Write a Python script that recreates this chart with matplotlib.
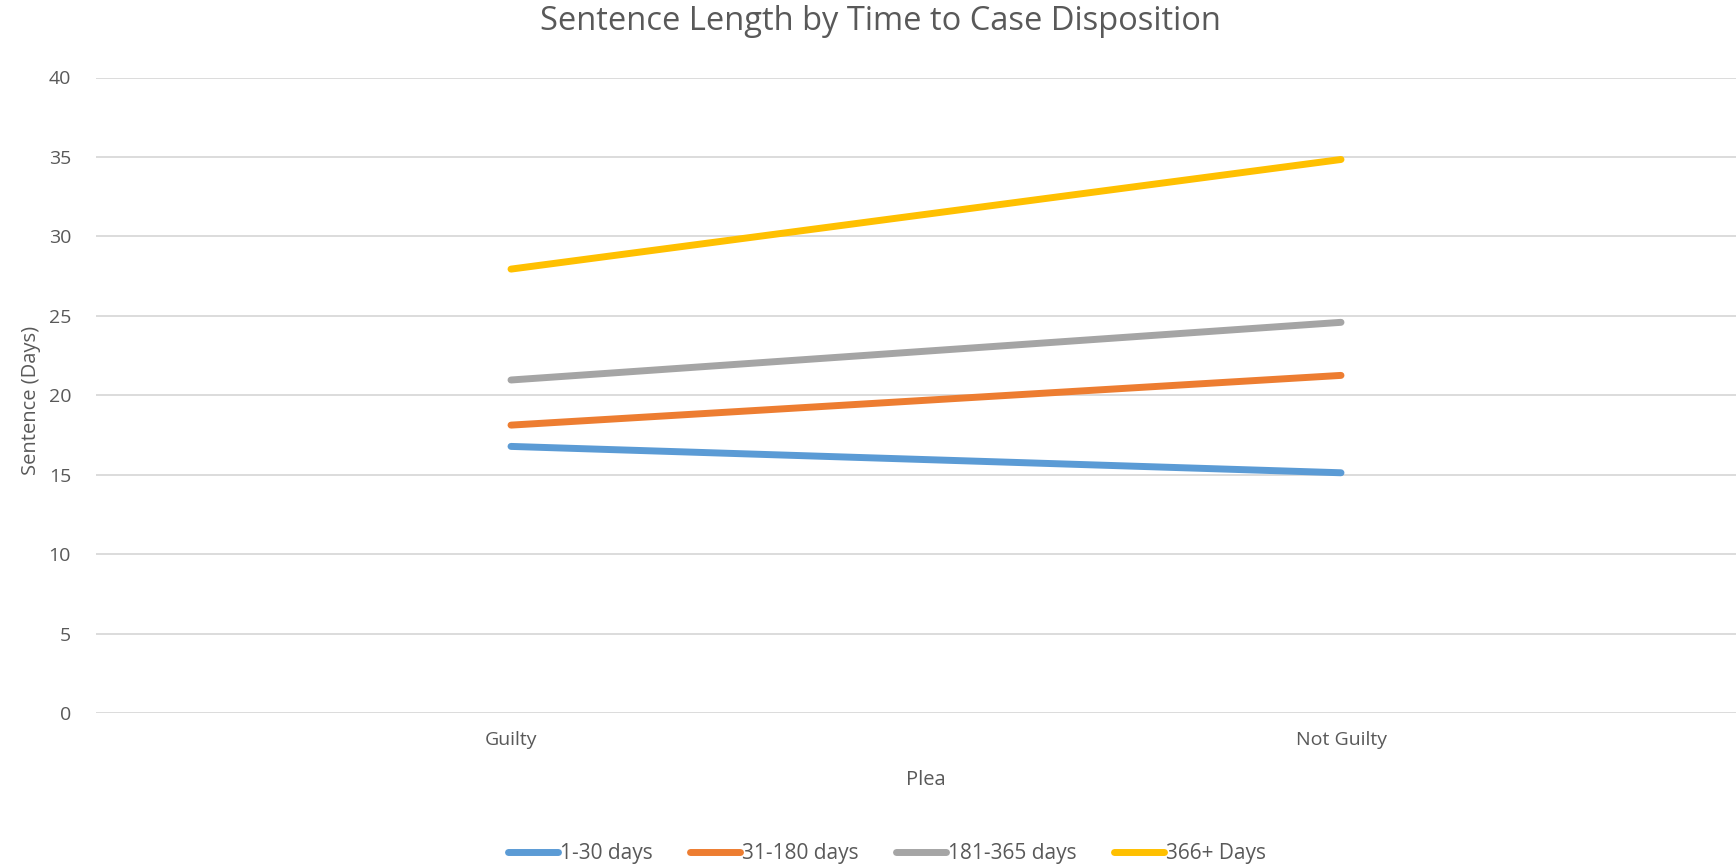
import matplotlib
matplotlib.use("Agg")
import matplotlib.pyplot as plt

plt.rcParams['font.family'] = ['Open Sans', 'DejaVu Sans']

# data
pleas = ["Guilty", "Not Guilty"]
series_names = ["1-30 days", "31-180 days", "181-365 days", "366+ Days"]
days_1_30 = [16.78, 15.12]
days_31_180 = [18.12, 21.25]
days_181_365 = [20.96, 24.59]
days_366_plus = [27.94, 34.84]
yticks = [0, 5, 10, 15, 20, 25, 30, 35, 40]

colors = ["#5B9BD5", "#ED7D31", "#A5A5A5", "#FFC000"]
text_col = "#595959"

W, H = 1736, 868
fig = plt.figure(figsize=(W / 100, H / 100), dpi=100)
# plot area runs a little past the right edge, like the original
left, right, top, bottom = 96, 1756, 77.5, 713
ax = fig.add_axes([left / W, 1 - bottom / H, (right - left) / W, (bottom - top) / H])

x = list(range(len(pleas)))
for name, ys, c in zip(series_names,
                       [days_1_30, days_31_180, days_181_365, days_366_plus],
                       colors):
    ax.plot(x, ys, color=c, lw=5, solid_capstyle="round", label=name, zorder=3)

ax.set_xlim(-0.5, len(pleas) - 0.5)
ax.set_ylim(0, 40)
ax.set_yticks(yticks)
ax.set_xticks(x)
ax.set_xticklabels(pleas)
ax.grid(axis="y", color="#D9D9D9", lw=1.3)
ax.set_axisbelow(True)
for s in ax.spines.values():
    s.set_visible(False)
ax.tick_params(length=0, labelsize=14, colors=text_col)
ax.tick_params(axis="y", pad=18)
ax.tick_params(axis="x", pad=13)

ax.set_xlabel("Plea", fontsize=14.5, color=text_col, labelpad=15)
fig.text(31 / W, 1 - 400 / H, "Sentence (Days)", rotation=90, fontsize=14.5,
         color=text_col, ha="center", va="center")

fig.text(880 / W, 1 - 22 / H, "Sentence Length by Time to Case Disposition",
         fontsize=23.5, color=text_col, ha="center", va="center")

fig.legend(loc="center", bbox_to_anchor=(887 / W, 1 - 854 / H), ncol=4,
           frameon=False, fontsize=15, labelcolor=text_col,
           handlelength=2.4, handletextpad=0.1, columnspacing=1.8)

fig.savefig("out.png", dpi=100)
